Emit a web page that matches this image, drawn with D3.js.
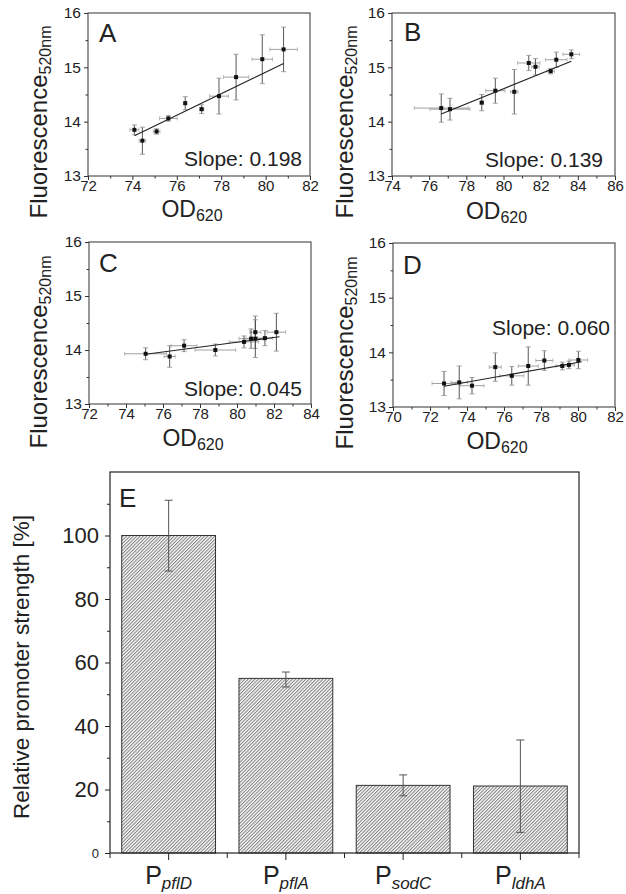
<!DOCTYPE html>
<html><head><meta charset="utf-8">
<script src="https://cdn.jsdelivr.net/npm/d3@7"></script>
<style>
body{margin:0;background:#fff}
svg{display:block}
text{font-family:"Liberation Sans",Arial,Helvetica,sans-serif;fill:#222}
</style>
</head><body>
<svg id="chart" width="626" height="894"></svg>
<script>
// ---------- DATA ----------
const odA = [74.09, 74.45, 75.09, 75.62, 76.38, 77.12, 77.90, 78.67, 79.85, 80.81];
const flA = [13.85, 13.65, 13.82, 14.06, 14.34, 14.23, 14.47, 14.82, 15.15, 15.33];
const odErrA = [0.2, 0.15, 0.15, 0.4, 0.05, 0.1, 0.43, 0.57, 0.46, 0.62];
const flErrA = [0.09, 0.25, 0.05, 0.05, 0.12, 0.08, 0.33, 0.42, 0.45, 0.41];
const fitA = {slope: 0.198, xStart: 74.09, xEnd: 80.81, yStart: 13.74, label: "Slope: 0.198"};

const odB = [76.65, 77.12, 78.83, 79.56, 80.58, 81.36, 81.72, 82.54, 82.84, 83.65];
const flB = [14.25, 14.23, 14.35, 14.57, 14.55, 15.08, 15.01, 14.93, 15.14, 15.24];
const odErrB = [1.45, 1.08, 0.1, 0.52, 0.2, 0.6, 0.2, 0.2, 0.58, 0.45];
const flErrB = [0.26, 0.2, 0.15, 0.23, 0.41, 0.14, 0.15, 0.05, 0.14, 0.08];
const fitB = {slope: 0.139, xStart: 76.65, xEnd: 83.65, yStart: 14.14, label: "Slope: 0.139"};

const odC = [75.06, 76.36, 77.14, 78.83, 80.38, 80.76, 80.99, 80.99, 81.51, 82.13];
const flC = [13.93, 13.88, 14.08, 14.00, 14.15, 14.21, 14.33, 14.21, 14.22, 14.33];
const odErrC = [1.13, 0.3, 0.7, 1.1, 0.8, 0.65, 0.3, 0.5, 0.4, 0.5];
const flErrC = [0.11, 0.2, 0.11, 0.11, 0.11, 0.18, 0.3, 0.35, 0.14, 0.35];
const fitC = {slope: 0.045, xStart: 75.06, xEnd: 82.3, yStart: 13.92, label: "Slope: 0.045"};

const odD = [72.76, 73.58, 74.27, 75.53, 76.42, 77.31, 78.18, 79.15, 79.51, 80.02];
const flD = [13.43, 13.45, 13.39, 13.73, 13.57, 13.75, 13.85, 13.75, 13.77, 13.86];
const odErrD = [0.65, 0.45, 0.65, 0.33, 0.65, 0.54, 0.46, 0.34, 0.3, 0.5];
const flErrD = [0.22, 0.3, 0.15, 0.26, 0.17, 0.35, 0.18, 0.07, 0.07, 0.16];
const fitD = {slope: 0.060, xStart: 72.76, xEnd: 80.2, yStart: 13.38, label: "Slope: 0.060"};

const xDomains = {A: [72, 82], B: [74, 86], C: [72, 84], D: [70, 82]};
const yDomainScatter = [13, 16];

const promoters = ["pflD", "pflA", "sodC", "ldhA"];
const strength = [100, 55, 21.3, 21.1];
const strengthLow = [88.8, 52.3, 18.0, 6.5];
const strengthHigh = [111.1, 57.0, 24.6, 35.6];
const yTicksE = [0, 20, 40, 60, 80, 100];

// ---------- DRAW ----------
const svg = d3.select("#chart");
const AX = "#333";

function scatterPanel(cfg) {
  const {letter, od, fl, odErr, flErr, fit, box, xDomain, yLabelX, yLabelY, odY, slopePos, letterPos} = cfg;
  const x = d3.scaleLinear().domain(xDomain).range([box.l, box.r]);
  const y = d3.scaleLinear().domain(yDomainScatter).range([box.b, box.t]);
  const g = svg.append("g");

  g.append("rect").attr("x", box.l).attr("y", box.t).attr("width", box.r - box.l).attr("height", box.b - box.t)
    .attr("fill", "none").attr("stroke", "#444").attr("stroke-width", 1.1);

  const xMinor = d3.range(xDomain[0], xDomain[1] + 0.001, 1);
  const xMajor = d3.range(xDomain[0], xDomain[1] + 0.001, 2);
  const xa = g.append("g").attr("transform", `translate(0,${box.b})`)
    .call(d3.axisBottom(x).tickValues(xMajor).tickSize(4).tickPadding(0).tickFormat(d3.format("d")));
  xa.select(".domain").remove();
  xa.selectAll("line").attr("stroke", AX);
  xa.selectAll("text").attr("font-size", 15).style("fill", "#222");
  g.append("g").attr("transform", `translate(0,${box.b})`)
    .call(d3.axisBottom(x).tickValues(xMinor.filter(v => !xMajor.includes(v))).tickSize(2.5).tickFormat(""))
    .call(s => { s.select(".domain").remove(); s.selectAll("line").attr("stroke", AX); });

  const ya = g.append("g").attr("transform", `translate(${box.l},0)`)
    .call(d3.axisLeft(y).tickValues([13, 14, 15, 16]).tickSize(4).tickPadding(3).tickFormat(d3.format("d")));
  ya.select(".domain").remove();
  ya.selectAll("line").attr("stroke", AX);
  ya.selectAll("text").attr("font-size", 15.5).style("fill", "#222");
  g.append("g").attr("transform", `translate(${box.l},0)`)
    .call(d3.axisLeft(y).tickValues([13.5, 14.5, 15.5]).tickSize(2.5).tickFormat(""))
    .call(s => { s.select(".domain").remove(); s.selectAll("line").attr("stroke", AX); });

  const pts = od.map((v, i) => ({x: v, y: fl[i], ex: odErr[i], ey: flErr[i]}));

  const hb = g.append("g").attr("stroke", "#888").attr("stroke-width", 0.8);
  pts.forEach(p => {
    hb.append("line").attr("x1", x(p.x - p.ex)).attr("x2", x(p.x + p.ex)).attr("y1", y(p.y)).attr("y2", y(p.y));
    [p.x - p.ex, p.x + p.ex].forEach(e => hb.append("line").attr("x1", x(e)).attr("x2", x(e))
      .attr("y1", y(p.y) - 2).attr("y2", y(p.y) + 2).attr("stroke", "#aaa"));
  });
  const vb = g.append("g").attr("stroke", "#444").attr("stroke-width", 0.9);
  pts.forEach(p => {
    vb.append("line").attr("x1", x(p.x)).attr("x2", x(p.x)).attr("y1", y(p.y - p.ey)).attr("y2", y(p.y + p.ey));
    [p.y - p.ey, p.y + p.ey].forEach(e => vb.append("line").attr("x1", x(p.x) - 2.5).attr("x2", x(p.x) + 2.5)
      .attr("y1", y(e)).attr("y2", y(e)).attr("stroke", "#999"));
  });

  g.append("line")
    .attr("x1", x(fit.xStart)).attr("y1", y(fit.yStart))
    .attr("x2", x(fit.xEnd)).attr("y2", y(fit.yStart + fit.slope * (fit.xEnd - fit.xStart)))
    .attr("stroke", "#222").attr("stroke-width", 1.1);

  g.selectAll("rect.pt").data(pts).join("rect").attr("class", "pt")
    .attr("x", d => x(d.x) - 2).attr("y", d => y(d.y) - 2).attr("width", 4).attr("height", 4).attr("fill", "#111");

  g.append("text").attr("x", letterPos[0]).attr("y", letterPos[1]).attr("font-size", 26).text(letter);
  g.append("text").attr("x", slopePos[0]).attr("y", slopePos[1]).attr("text-anchor", "end").attr("font-size", 21).text(fit.label);

  const xl = g.append("text").attr("x", (box.l + box.r) / 2 - 7).attr("y", odY).attr("text-anchor", "middle").attr("font-size", 23);
  xl.append("tspan").text("OD");
  xl.append("tspan").attr("font-size", 16).attr("dy", 4).text("620");

  const yl = g.append("text").attr("transform", `translate(${yLabelX},${yLabelY}) rotate(-90)`)
    .attr("text-anchor", "middle").attr("font-size", 24);
  yl.append("tspan").text("Fluorescence");
  yl.append("tspan").attr("font-size", 16).attr("dy", 4).text("520nm");
}

scatterPanel({letter: "A", od: odA, fl: flA, odErr: odErrA, flErr: flErrA, fit: fitA,
  box: {l: 88, r: 310, t: 13, b: 176}, xDomain: xDomains.A, yLabelX: 47, yLabelY: 122, odY: 217,
  slopePos: [302, 166], letterPos: [99, 42]});
scatterPanel({letter: "B", od: odB, fl: flB, odErr: odErrB, flErr: flErrB, fit: fitB,
  box: {l: 392, r: 615, t: 13, b: 176}, xDomain: xDomains.B, yLabelX: 353, yLabelY: 122, odY: 219,
  slopePos: [603, 167], letterPos: [404, 41]});
scatterPanel({letter: "C", od: odC, fl: flC, odErr: odErrC, flErr: flErrC, fit: fitC,
  box: {l: 89, r: 311, t: 242, b: 404}, xDomain: xDomains.C, yLabelX: 47, yLabelY: 352, odY: 446,
  slopePos: [302, 396], letterPos: [99, 272]});
scatterPanel({letter: "D", od: odD, fl: flD, odErr: odErrD, flErr: flErrD, fit: fitD,
  box: {l: 393, r: 615, t: 243, b: 407}, xDomain: xDomains.D, yLabelX: 353, yLabelY: 353, odY: 449,
  slopePos: [610, 335], letterPos: [403, 274]});

// ---------- PANEL E ----------
const E = {l: 110, r: 579, t: 472, b: 853};
const xE = d3.scaleBand().domain(promoters).range([E.l, E.r]).paddingInner(0.2).paddingOuter(0.1);
const yE = d3.scaleLinear().domain([0, 120]).range([E.b, E.t]);
const defs = svg.append("defs");
const pat = defs.append("pattern").attr("id", "hatch").attr("patternUnits", "userSpaceOnUse")
  .attr("width", 2.4).attr("height", 2.4).attr("patternTransform", "rotate(45)");
pat.append("rect").attr("width", 2.4).attr("height", 2.4).attr("fill", "#fff");
pat.append("line").attr("x1", 0.6).attr("y1", 0).attr("x2", 0.6).attr("y2", 2.4).attr("stroke", "#555").attr("stroke-width", 0.8);

const gE = svg.append("g");
gE.selectAll("rect.bar").data(promoters).join("rect").attr("class", "bar")
  .attr("x", d => xE(d)).attr("width", xE.bandwidth())
  .attr("y", (d, i) => yE(strength[i])).attr("height", (d, i) => yE(0) - yE(strength[i]))
  .attr("fill", "url(#hatch)").attr("stroke", "#333").attr("stroke-width", 1);

promoters.forEach((p, i) => {
  const cx = xE(p) + xE.bandwidth() / 2;
  gE.append("line").attr("x1", cx).attr("x2", cx).attr("y1", yE(strengthLow[i])).attr("y2", yE(strengthHigh[i]))
    .attr("stroke", "#555").attr("stroke-width", 1);
  [strengthLow[i], strengthHigh[i]].forEach(v => gE.append("line").attr("x1", cx - 4).attr("x2", cx + 4)
    .attr("y1", yE(v)).attr("y2", yE(v)).attr("stroke", "#555").attr("stroke-width", 1));
});

gE.append("rect").attr("x", E.l).attr("y", E.t).attr("width", E.r - E.l).attr("height", E.b - E.t)
  .attr("fill", "none").attr("stroke", "#222").attr("stroke-width", 1.2);

const yaE = gE.append("g").attr("transform", `translate(${E.l},0)`)
  .call(d3.axisLeft(yE).tickValues(yTicksE).tickSize(5).tickPadding(6).tickFormat(d3.format("d")));
yaE.select(".domain").remove();
yaE.selectAll("line").attr("stroke", "#222");
yaE.selectAll("text").attr("font-size", d => d === 0 ? 13 : 22).style("fill", "#222");
gE.append("g").attr("transform", `translate(${E.l},0)`)
  .call(d3.axisLeft(yE).tickValues([10, 30, 50, 70, 90, 110]).tickSize(3).tickFormat(""))
  .call(s => { s.select(".domain").remove(); s.selectAll("line").attr("stroke", "#222"); });

const xaE = gE.append("g").attr("transform", `translate(0,${E.b})`)
  .call(d3.axisBottom(xE).tickSize(7).tickFormat(""));
xaE.select(".domain").remove();
xaE.selectAll("line").attr("stroke", "#222");
const bounds = d3.range(0, promoters.length + 1).map(i => E.l + (E.r - E.l) * i / promoters.length);
gE.append("g").selectAll("line").data(bounds).join("line")
  .attr("x1", d => d).attr("x2", d => d).attr("y1", E.b).attr("y2", E.b + 5).attr("stroke", "#222");

promoters.forEach(p => {
  const t = gE.append("text").attr("x", xE(p) + xE.bandwidth() / 2).attr("y", 884)
    .attr("text-anchor", "middle").attr("font-size", 25);
  t.append("tspan").text("P");
  t.append("tspan").attr("font-size", 17).attr("font-style", "italic").attr("dy", 5).text(p);
});

gE.append("text").attr("x", 119).attr("y", 507).attr("font-size", 26).text("E");

gE.append("text").attr("transform", `translate(29,667) rotate(-90)`).attr("text-anchor", "middle")
  .attr("font-size", 22.5).text("Relative promoter strength [%]");
</script>
</body></html>
